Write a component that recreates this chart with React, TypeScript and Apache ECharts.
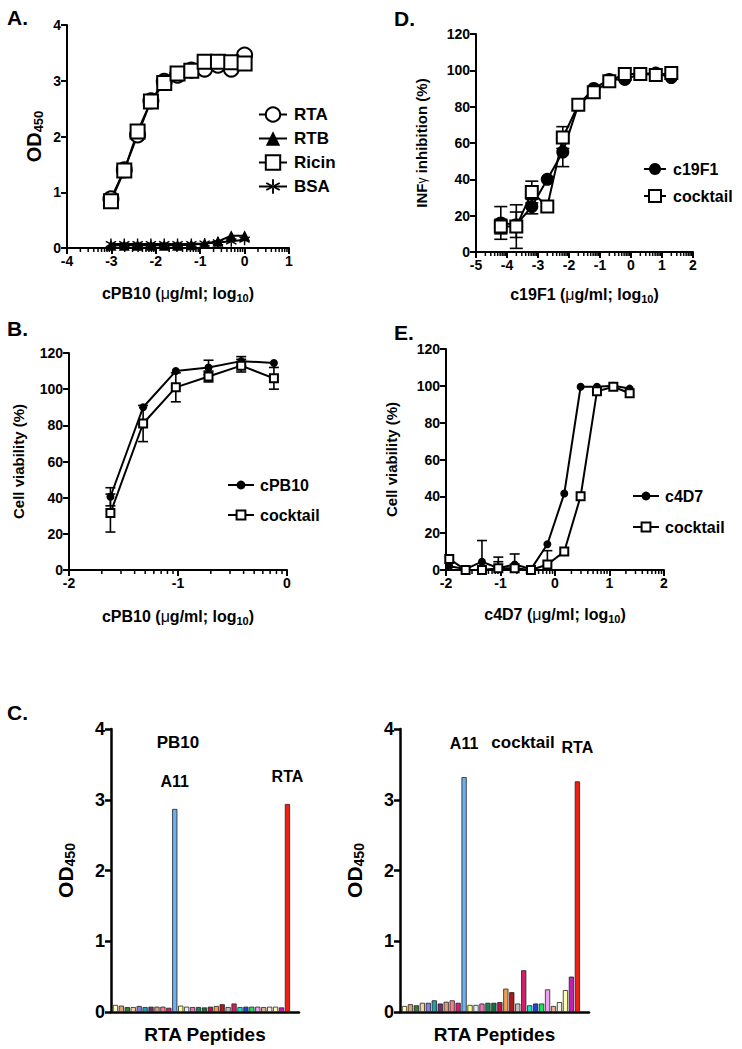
import React, { useEffect, useRef } from 'react';
import * as echarts from 'echarts';

const FONT = 'Liberation Sans, Arial, Helvetica, sans-serif';

// ---------- Panel A: ELISA binding ----------
const aX = [-3.01, -2.71, -2.41, -2.11, -1.81, -1.51, -1.2, -0.9, -0.6, -0.3, 0];
const aRTA = [0.88, 1.4, 2.03, 2.64, 2.99, 3.1, 3.19, 3.21, 3.28, 3.21, 3.46];
const aRTB = [0.05, 0.05, 0.05, 0.05, 0.05, 0.05, 0.06, 0.08, 0.12, 0.22, 0.22];
const aRicin = [0.84, 1.39, 2.09, 2.63, 2.96, 3.13, 3.18, 3.34, 3.34, 3.33, 3.31];
const aBSA = [0.07, 0.07, 0.07, 0.07, 0.07, 0.07, 0.07, 0.08, 0.1, 0.12, 0.15];
const aDecades = [-4, -3, -2, -1, 0];

// ---------- Panel B: cell viability cPB10 ----------
const bX = [-1.62, -1.32, -1.02, -0.72, -0.42, -0.12];
const bCPB10 = [40.5, 90, 110, 112, 115.5, 114.5];
const bCPB10Err = [5, 0, 0, 4, 2.5, 0];
const bCocktail = [31.5, 81, 101, 107, 113, 106];
const bCocktailErr = [10.5, 10, 8, 3, 3.5, 6];
const bDecades = [-2, -1];

// ---------- Panel D: INFγ inhibition ----------
const dX = [-4.2, -3.7, -3.2, -2.7, -2.2, -1.7, -1.2, -0.7, -0.2, 0.3, 0.8, 1.3];
const dC19F1 = [16, 15, 25, 40, 55, 81, 90, 95, 95, 98, 98.5, 96];
const dC19F1Err = [9, 7, 4, 0, 8, 0, 0, 0, 0, 0, 0, 0];
const dCocktail = [14, 14, 33, 25, 63, 81, 88, 94, 98, 98, 97.5, 98.5];
const dCocktailErr = [4, 12, 6, 0, 6, 0, 0, 0, 0, 0, 0, 0];
const dDecades = [-5, -4, -3, -2, -1, 0, 1];

// ---------- Panel E: cell viability c4D7 ----------
const eX = [-1.94, -1.64, -1.34, -1.04, -0.74, -0.44, -0.14, 0.17, 0.47, 0.77, 1.07, 1.37];
const eC4D7 = [2, 0.5, 4.5, 1, 3, 0.5, 14, 41.5, 99.5, 99.5, 100, 98.5];
const eC4D7Err = [0, 0, 11.5, 6, 5.7, 0, 0, 0, 0, 0, 0, 0];
const eCocktail = [6, 0, 0, 1, 1, 0, 3, 10, 40, 97, 99.5, 96];
const eCocktailErr = [0, 0, 0, 3.5, 0, 0, 7.5, 0, 0, 0, 0, 0];
const eDecades = [-2, -1, 0, 1];

// ---------- Panel C: RTA peptides ----------
const cPeptides = [
  'P1', 'P2', 'P3', 'P4', 'P5', 'P6', 'P7', 'P8', 'P9', 'P10', 'A11',
  'P12', 'P13', 'P14', 'P15', 'P16', 'P17', 'P18', 'P19', 'P20', 'P21', 'P22',
  'P23', 'P24', 'P25', 'P26', 'P27', 'P28', 'P29', 'RTA',
];
const cLabelled = ['A11', 'RTA'];
const cColors = [
  '#FFFFC0', '#E0A070', '#2E7D3A', '#F5D0A0', '#8080E0', '#20A0B0', '#703070', '#D0A080', '#F08090', '#D02070',
  '#6CB0F0', '#FFFF80', '#E0F0FF', '#F070C0', '#208050', '#107040', '#C01050', '#F0A050', '#B01818', '#C0C0C0',
  '#D0206A', '#20E0C0', '#2040D0', '#20E060', '#F0A0F0', '#E0B090', '#F4F0E0', '#FFFFB0', '#C020B0', '#F02010',
];
const cPB10 = [
  0.1, 0.09, 0.07, 0.07, 0.085, 0.07, 0.075, 0.075, 0.075, 0.06, 2.87,
  0.09, 0.075, 0.07, 0.07, 0.065, 0.075, 0.085, 0.11, 0.07, 0.12, 0.07,
  0.075, 0.075, 0.075, 0.07, 0.075, 0.075, 0.065, 2.94,
];
const cCocktail = [
  0.085, 0.11, 0.095, 0.13, 0.13, 0.165, 0.12, 0.145, 0.165, 0.13, 3.32,
  0.1, 0.1, 0.12, 0.13, 0.13, 0.14, 0.33, 0.28, 0.12, 0.59, 0.095,
  0.12, 0.12, 0.32, 0.085, 0.14, 0.31, 0.5, 3.26,
];

const ASTERISK =
  'path://M-0.6,-5L0.6,-5L0.6,5L-0.6,5Z M4.03,3.02L4.63,1.98L-4.03,-3.02L-4.63,-1.98Z M-4.63,1.98L-4.03,3.02L4.63,-1.98L4.03,-3.02Z';

const zip = (xs: number[], ys: number[]) => xs.map((x, i) => [x, ys[i]]);

const labelStyle = (size: number) => ({
  color: '#000',
  fontFamily: FONT,
  fontWeight: 'bold' as const,
  fontSize: size,
});

const subRich = (base: number, sub: number, drop: number) => ({
  sub: { fontFamily: FONT, fontWeight: 'bold', fontSize: sub, color: '#000', padding: [drop, 0, 0, 0] },
  mu: { fontFamily: FONT, fontWeight: 'normal', fontSize: base, color: '#000' },
  g: { fontFamily: FONT, fontWeight: 'normal', fontSize: base - 3, color: '#000' },
});

function axisBase(grid: number, min: number, max: number, interval: number, lw: number, labelSize: number) {
  return {
    type: 'value',
    gridIndex: grid,
    min,
    max,
    interval,
    axisLine: { show: true, onZero: false, lineStyle: { color: '#000', width: lw } },
    axisTick: { show: true, length: 6, lineStyle: { color: '#000', width: lw } },
    axisLabel: { ...labelStyle(labelSize), margin: 6 },
    splitLine: { show: false },
  };
}

function lineSeries(
  name: string, grid: number, xs: number[], ys: number[], symbol: string, size: number, filled: boolean,
) {
  return {
    type: 'line',
    name,
    xAxisIndex: grid,
    yAxisIndex: grid,
    data: zip(xs, ys),
    symbol,
    symbolSize: size,
    showSymbol: true,
    lineStyle: { color: '#000', width: 2 },
    itemStyle: filled
      ? { color: '#000', borderColor: '#000', borderWidth: 0 }
      : { color: '#fff', borderColor: '#000', borderWidth: 2 },
    z: 4,
    silent: true,
  };
}

function errSeries(grid: number, xs: number[], ys: number[], errs: number[], cap: number) {
  const data = xs
    .map((x, i) => [x, Math.max(0, ys[i] - errs[i]), ys[i] + errs[i], errs[i]])
    .filter((d) => d[3] > 0);
  return {
    type: 'custom',
    xAxisIndex: grid,
    yAxisIndex: grid,
    data,
    encode: { x: 0, y: [1, 2] },
    z: 3,
    silent: true,
    renderItem: (_p: any, api: any) => {
      const x = api.value(0);
      const lo = api.coord([x, api.value(1)]);
      const hi = api.coord([x, api.value(2)]);
      const st = { stroke: '#000', lineWidth: 1.6 };
      return {
        type: 'group',
        children: [
          { type: 'line', shape: { x1: lo[0], y1: lo[1], x2: hi[0], y2: hi[1] }, style: st },
          { type: 'line', shape: { x1: hi[0] - cap / 2, y1: hi[1], x2: hi[0] + cap / 2, y2: hi[1] }, style: st },
          { type: 'line', shape: { x1: lo[0] - cap / 2, y1: lo[1], x2: lo[0] + cap / 2, y2: lo[1] }, style: st },
        ],
      };
    },
  };
}

// log-spaced minor ticks for log10 axes (axis decoration)
function minorTicks(grid: number, decades: number[]) {
  const data: number[][] = [];
  decades.forEach((d) => {
    for (let k = 2; k <= 9; k++) data.push([d + Math.log10(k), 0]);
  });
  return {
    type: 'custom',
    xAxisIndex: grid,
    yAxisIndex: grid,
    data,
    encode: { x: 0, y: 1 },
    z: 2,
    silent: true,
    renderItem: (_p: any, api: any) => {
      const p = api.coord([api.value(0), 0]);
      return {
        type: 'line',
        shape: { x1: p[0], y1: p[1], x2: p[0], y2: p[1] + 4 },
        style: { stroke: '#000', lineWidth: 1.5 },
      };
    },
  };
}

function barSeries(grid: number, values: number[], labelDist: number) {
  return {
    type: 'bar',
    xAxisIndex: grid,
    yAxisIndex: grid,
    barWidth: 5.2,
    silent: true,
    data: values.map((v, i) => ({
      value: [i, v],
      itemStyle: { color: cColors[i], borderColor: '#222', borderWidth: 0.8 },
      label: cLabelled.includes(cPeptides[i])
        ? { show: true, position: 'top', distance: labelDist, formatter: cPeptides[i], ...labelStyle(16) }
        : { show: false },
    })),
  };
}

function legend(left: number, top: number, names: string[], h: number, gap: number, size: number, w: number, pad: number) {
  return {
    left,
    top,
    orient: 'vertical',
    itemWidth: w,
    itemHeight: h,
    itemGap: gap,
    data: names,
    selectedMode: false,
    formatter: (n: string) => n.replace(/ \([A-Z]\)$/, ''),
    textStyle: { ...labelStyle(size), padding: [0, 0, 0, pad] },
  };
}

function buildOption() {
  const xA = {
    ...axisBase(0, -4, 1, 1, 2, 14),
    name: 'cPB10 ({mu|μ}g/ml; log{sub|10})',
    nameLocation: 'middle',
    nameGap: 36,
    nameTextStyle: { ...labelStyle(16), rich: subRich(16, 11, 8) },
  };
  const yA = {
    ...axisBase(0, 0, 4, 1, 2, 14),
    name: 'OD{sub|450}',
    nameLocation: 'middle',
    nameGap: 22,
    nameTextStyle: { ...labelStyle(20), rich: subRich(20, 13, 10) },
  };
  const xB = {
    ...axisBase(1, -2, 0, 1, 2, 14),
    name: 'cPB10 ({mu|μ}g/ml; log{sub|10})',
    nameLocation: 'middle',
    nameGap: 37,
    nameTextStyle: { ...labelStyle(16), rich: subRich(16, 11, 8) },
  };
  const yB = {
    ...axisBase(1, 0, 120, 20, 2, 14),
    name: 'Cell viability (%)',
    nameLocation: 'middle',
    nameGap: 43,
    nameTextStyle: labelStyle(15),
  };
  const xD = {
    ...axisBase(2, -5, 2, 1, 2, 14),
    name: 'c19F1 ({mu|μ}g/ml; log{sub|10})',
    nameLocation: 'middle',
    nameGap: 33,
    nameTextStyle: { ...labelStyle(16), rich: subRich(16, 11, 8) },
  };
  const yD = {
    ...axisBase(2, 0, 120, 20, 2, 14),
    name: 'INF{g|γ} inhibition (%)',
    nameLocation: 'middle',
    nameGap: 47,
    nameTextStyle: { ...labelStyle(15), rich: subRich(15, 11, 8) },
  };
  const xE = {
    ...axisBase(3, -2, 2, 1, 2, 14),
    name: 'c4D7 ({mu|μ}g/ml; log{sub|10})',
    nameLocation: 'middle',
    nameGap: 35,
    nameTextStyle: { ...labelStyle(16), rich: subRich(16, 11, 8) },
  };
  const yE = {
    ...axisBase(3, 0, 120, 20, 2, 14),
    name: 'Cell viability (%)',
    nameLocation: 'middle',
    nameGap: 47,
    nameTextStyle: labelStyle(15),
  };
  const xC = (g: number) => ({
    ...axisBase(g, -0.75, 30.95, 1, 2.5, 14),
    axisTick: { show: false },
    axisLabel: { show: false },
    name: 'RTA Peptides',
    nameLocation: 'middle',
    nameGap: 13,
    nameTextStyle: { ...labelStyle(19), verticalAlign: 'top' },
  });
  const yC = (g: number) => ({
    ...axisBase(g, 0, 4, 1, 2.5, 18),
    name: 'OD{sub|450}',
    nameLocation: 'middle',
    nameGap: 34,
    nameTextStyle: { ...labelStyle(21), rich: subRich(21, 14, 10) },
  });

  const letter = (t: string, x: number, y: number) => ({
    type: 'text',
    x,
    y,
    style: { text: t, font: `bold 21px ${FONT}`, fill: '#000', align: 'left', verticalAlign: 'middle' },
  });
  const title = (t: string, x: number, y: number) => ({
    type: 'text',
    x,
    y,
    style: { text: t, font: `bold 17px ${FONT}`, fill: '#000', align: 'center', verticalAlign: 'middle' },
  });

  return {
    animation: false,
    backgroundColor: '#fff',
    grid: [
      { left: 67, top: 25, width: 222, height: 223 },
      { left: 69, top: 353, width: 218, height: 217 },
      { left: 476, top: 34, width: 217, height: 218 },
      { left: 446, top: 349, width: 218, height: 221 },
      { left: 111, top: 729, width: 188, height: 283 },
      { left: 400, top: 729, width: 189, height: 283 },
    ],
    xAxis: [xA, xB, xD, xE, xC(4), xC(5)],
    yAxis: [yA, yB, yD, yE, yC(4), yC(5)],
    legend: [
      legend(253, 101, ['RTA', 'RTB', 'Ricin', 'BSA'], 18, 7, 17, 28, 2),
      legend(222, 472, ['cPB10', 'cocktail (B)'], 11, 14, 16, 26, 1),
      legend(638, 156, ['c19F1', 'cocktail (D)'], 15, 11, 16, 22, 2),
      legend(627, 483, ['c4D7', 'cocktail (E)'], 11, 15, 16, 26, 1),
    ],
    graphic: [
      letter('A.', 7, 17),
      letter('B.', 7, 328),
      letter('C.', 7, 712),
      letter('D.', 394, 18),
      letter('E.', 394, 332),
      title('PB10', 178, 742),
      title('cocktail', 523, 742),
    ],
    series: [
      // A
      minorTicks(0, aDecades),
      lineSeries('RTA', 0, aX, aRTA, 'circle', 15, false),
      lineSeries('Ricin', 0, aX, aRicin, 'rect', 14, false),
      lineSeries('RTB', 0, aX, aRTB, 'triangle', 11, true),
      lineSeries('BSA', 0, aX, aBSA, ASTERISK, 11, true),
      // B
      minorTicks(1, bDecades),
      errSeries(1, bX, bCPB10, bCPB10Err, 10),
      errSeries(1, bX, bCocktail, bCocktailErr, 10),
      lineSeries('cPB10', 1, bX, bCPB10, 'circle', 8, true),
      lineSeries('cocktail (B)', 1, bX, bCocktail, 'rect', 8, false),
      // D
      minorTicks(2, dDecades),
      errSeries(2, dX, dC19F1, dC19F1Err, 13),
      errSeries(2, dX, dCocktail, dCocktailErr, 13),
      lineSeries('c19F1', 2, dX, dC19F1, 'circle', 13, true),
      lineSeries('cocktail (D)', 2, dX, dCocktail, 'rect', 12, false),
      // E
      minorTicks(3, eDecades),
      errSeries(3, eX, eC4D7, eC4D7Err, 10),
      errSeries(3, eX, eCocktail, eCocktailErr, 10),
      lineSeries('c4D7', 3, eX, eC4D7, 'circle', 8, true),
      lineSeries('cocktail (E)', 3, eX, eCocktail, 'rect', 8, false),
      // C
      barSeries(4, cPB10, 19),
      barSeries(5, cCocktail, 26),
    ],
  };
}

export default function App() {
  const ref = useRef<HTMLDivElement>(null);
  useEffect(() => {
    document.body.style.margin = '0';
    const chart = echarts.init(ref.current as HTMLDivElement, null, { renderer: 'svg' });
    chart.setOption(buildOption() as any);
    return () => chart.dispose();
  }, []);
  return <div ref={ref} style={{ width: 742, height: 1049 }} />;
}
